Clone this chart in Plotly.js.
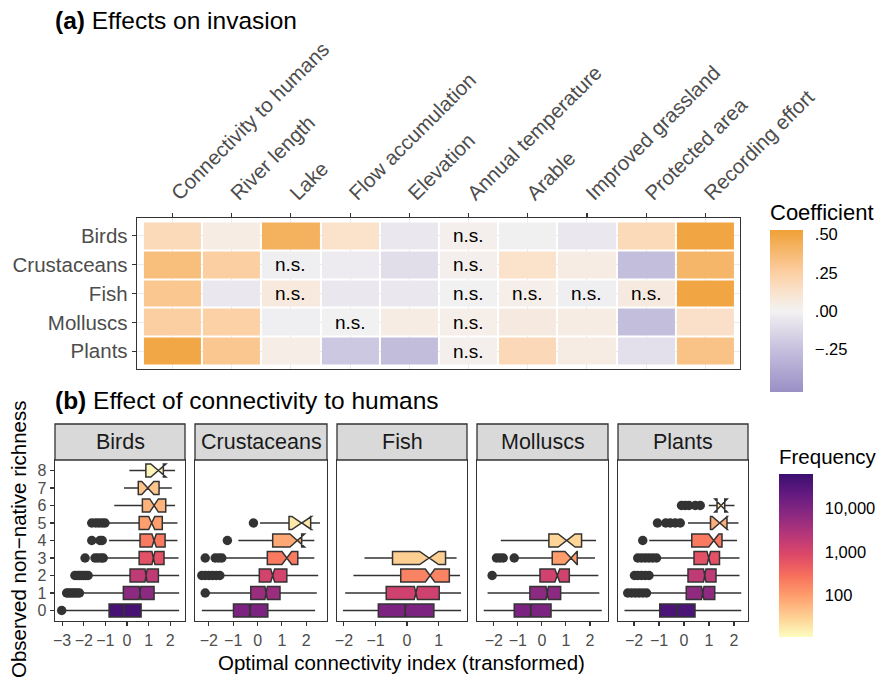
<!DOCTYPE html>
<html><head><meta charset="utf-8">
<script src="https://cdn.plot.ly/plotly-3.0.1.min.js"></script>
<style>html,body{margin:0;padding:0;background:#fff}</style>
</head><body><div id="chart" style="width:882px;height:680px"></div>
<script>
// ---------- (a) heatmap data ----------
const taxa = ['Birds','Crustaceans','Fish','Molluscs','Plants'];
const predictors = ['Connectivity to humans','River length','Lake','Flow accumulation','Elevation',
  'Annual temperature','Arable','Improved grassland','Protected area','Recording effort'];
const coefBirds       = [0.18, 0.05, 0.43, 0.13, -0.05, 0.02, -0.01, -0.05, 0.18, 0.50];
const coefCrustaceans = [0.35, 0.25, -0.02, -0.035, -0.10, 0.02, 0.13, 0.05, -0.26, 0.40];
const coefFish        = [0.30, -0.05, 0.07, -0.05, -0.05, -0.005, 0.03, -0.02, 0.06, 0.50];
const coefMolluscs    = [0.25, 0.24, -0.02, -0.005, 0.05, 0.03, 0.06, 0.05, -0.26, 0.14];
const coefPlants      = [0.49, 0.30, 0.04, -0.21, -0.27, 0.02, 0.19, 0.05, -0.09, 0.32];
const nsBirds       = [0,0,0,0,0,1,0,0,0,0];
const nsCrustaceans = [0,0,1,0,0,1,0,0,0,0];
const nsFish        = [0,0,1,0,0,1,1,1,1,0];
const nsMolluscs    = [0,0,0,1,0,1,0,0,0,0];
const nsPlants      = [0,0,0,0,0,1,0,0,0,0];
const coefTickVals = [0.5, 0.25, 0, -0.25];
const coefTickText = ['.50', '.25', '.00', '\u2212.25'];

// ---------- (b) box plot data ----------
const birdsLevel  = [0,1,2,3,4,5,6,7,8];
const birdsLow    = [-2.87,-2.10,-1.63,-0.94,-0.83,-0.86,-0.59,-0.14,0.11];
const birdsQ1     = [-0.83,-0.17,0.14,0.56,0.60,0.56,0.71,0.52,0.87];
const birdsMed    = [-0.14,0.60,0.88,1.22,1.25,1.14,1.25,0.96,1.45];
const birdsQ3     = [0.65,1.25,1.45,1.71,1.76,1.63,1.79,1.48,1.68];
const birdsHigh   = [2.41,2.41,2.41,2.38,2.33,2.33,2.22,2.07,2.22];
const birdsNotch  = [0.02,0.04,0.05,0.07,0.10,0.14,0.20,0.28,0.35];
const birdsFreq   = [45000,7200,1950,660,220,94,60,40,13];
const birdsOut    = [[-3.02],[-2.79,-2.7,-2.6,-2.5,-2.4,-2.3,-2.2],[-2.41,-2.3,-2.2,-2.1,-2.0,-1.9,-1.8],
                     [-1.94,-1.48,-1.35,-1.2,-1.1],[-1.63,-1.25,-1.15],[-1.63,-1.45,-1.3,-1.15,-1.02],[],[],[]];

const crustLevel  = [0,1,2,3,4,5];
const crustLow    = [-2.29,-2.03,-1.50,-1.40,-0.79,0.10];
const crustQ1     = [-0.99,-0.28,0.07,0.40,0.62,1.29];
const crustMed    = [-0.31,0.35,0.62,1.20,1.63,1.81];
const crustQ3     = [0.42,0.92,1.20,1.65,1.81,2.18];
const crustHigh   = [2.36,2.43,2.49,2.33,2.33,2.56];
const crustNotch  = [0.03,0.05,0.08,0.20,0.30,0.40];
const crustFreq   = [11000,5100,1150,220,75,18];
const crustOut    = [[],[-2.15],[-2.29,-2.15,-2.0,-1.85,-1.7,-1.55],[-2.15,-1.74,-1.6,-1.47],[-1.24],[-0.17]];

const fishLevel   = [0,1,2,3];
const fishLow     = [-2.03,-1.96,-1.70,-1.35];
const fishQ1      = [-0.91,-0.66,-0.20,-0.46];
const fishMed     = [-0.06,0.28,0.73,0.70];
const fishQ3      = [0.85,1.02,1.34,1.22];
const fishHigh    = [1.71,1.71,1.68,1.57];
const fishNotch   = [0.02,0.05,0.15,0.30];
const fishFreq    = [11000,1260,180,32];
const fishOut     = [[],[],[],[]];

const mollLevel   = [0,1,2,3,4];
const mollLow     = [-2.42,-2.26,-1.96,-1.05,-1.71];
const mollQ1      = [-1.15,-0.50,-0.08,0.43,0.29];
const mollMed     = [-0.46,0.22,0.64,1.21,1.03];
const mollQ3      = [0.38,0.78,1.14,1.47,1.65];
const mollHigh    = [2.49,2.39,2.35,2.21,2.25];
const mollNotch   = [0.03,0.05,0.10,0.25,0.35];
const mollFreq    = [11000,7200,1200,100,28];
const mollOut     = [[],[],[-2.07],[-1.89,-1.75,-1.61,-1.15],[]];

const plantLevel  = [0,1,2,3,4,5,6];
const plantLow    = [-2.38,-1.39,-1.33,-1.00,-1.39,0.16,0.99];
const plantQ1     = [-0.97,0.09,0.16,0.40,0.31,1.06,1.32];
const plantMed    = [-0.27,0.75,0.83,0.99,1.19,1.43,1.48];
const plantQ3     = [0.44,1.23,1.28,1.42,1.52,1.72,1.63];
const plantHigh   = [2.29,2.29,2.22,2.22,2.12,2.18,2.02];
const plantNotch  = [0.02,0.05,0.05,0.07,0.20,0.30,0.25];
const plantFreq   = [40000,6500,1950,660,220,66,18];
const plantOut    = [[],[-2.25,-2.1,-1.95,-1.8,-1.65,-1.5],[-1.98,-1.85,-1.7,-1.55,-1.4],
                     [-1.85,-1.7,-1.55,-1.4,-1.25,-1.1],[-1.65],[-1.06,-0.73,-0.55,-0.35,-0.15],[-0.1,0.05,0.2,0.45,0.65]];

const freqTickVals = [2,3,4];
const freqTickText = ['100','1,000','10,000'];

// ---------- styling ----------
const W = 882, H = 680;
const px = v => v / W, py = v => 1 - v / H;
const FONT = 'Liberation Sans, Arial, Helvetica, sans-serif';
const DARK = '#333333', GREY = '#4d4d4d';

const coefScale = [[0,'#9a90c5'],[0.264,'#c6c0de'],[0.5,'#f3f2f2'],[0.62,'#fae2cc'],[0.736,'#fccfa3'],[1,'#f0a037']];
const magma = ['#fcfdbf','#fecf92','#fe9f6d','#f7705c','#de4968','#b73779','#8c2981','#641a80','#3b0f70'];
const freqScale = magma.map((c,i)=>[i/(magma.length-1), c]);
const freqLogMin = 1.03, freqLogMax = 4.8;
function hex2rgb(h){return [1,3,5].map(i=>parseInt(h.substr(i,2),16));}
function freqColor(f){
  let t = (Math.log10(f)-freqLogMin)/(freqLogMax-freqLogMin);
  t = Math.max(0, Math.min(1, t));
  const pos = t*(magma.length-1), i = Math.min(Math.floor(pos), magma.length-2), fr = pos-i;
  const a = hex2rgb(magma[i]), b = hex2rgb(magma[i+1]);
  const c = a.map((v,k)=>Math.round(v+(b[k]-v)*fr));
  return 'rgb('+c.join(',')+')';
}

const traces = [];
const annotations = [];
const shapes = [];

// heatmap
const zRows = [coefBirds, coefCrustaceans, coefFish, coefMolluscs, coefPlants];
const nsRows = [nsBirds, nsCrustaceans, nsFish, nsMolluscs, nsPlants];
traces.push({
  type:'heatmap', x:predictors, y:taxa, z:zRows, xaxis:'x', yaxis:'y',
  colorscale:coefScale, zmin:-0.53, zmax:0.53, xgap:2, ygap:2, hoverinfo:'skip',
  colorbar:{x:px(770), xanchor:'left', xpad:0, ypad:0, y:py(392), yanchor:'bottom',
    len:192, lenmode:'pixels', thickness:33, thicknessmode:'pixels', outlinewidth:0,
    ticks:'outside', ticklen:9, tickcolor:'rgba(0,0,0,0)',
    tickvals:coefTickVals, ticktext:coefTickText, tickfont:{family:FONT, size:16.5, color:'#000'},
    title:{text:'Coefficient', side:'top', font:{family:FONT, size:22, color:'#000'}}}
});
nsRows.forEach((row, r) => row.forEach((flag, c) => {
  if (flag) annotations.push({xref:'x', yref:'y', x:predictors[c], y:taxa[r], text:'n.s.',
    showarrow:false, font:{family:FONT, size:19, color:'#000'}});
}));

// boxes
const panels = [
  {name:'Birds', lev:birdsLevel, lo:birdsLow, q1:birdsQ1, med:birdsMed, q3:birdsQ3, hi:birdsHigh, notch:birdsNotch, freq:birdsFreq, out:birdsOut, l:55, r:185, range:[-3.33,2.68]},
  {name:'Crustaceans', lev:crustLevel, lo:crustLow, q1:crustQ1, med:crustMed, q3:crustQ3, hi:crustHigh, notch:crustNotch, freq:crustFreq, out:crustOut, l:195, r:327, range:[-2.57,2.85]},
  {name:'Fish', lev:fishLevel, lo:fishLow, q1:fishQ1, med:fishMed, q3:fishQ3, hi:fishHigh, notch:fishNotch, freq:fishFreq, out:fishOut, l:337, r:467, range:[-2.22,1.9]},
  {name:'Molluscs', lev:mollLevel, lo:mollLow, q1:mollQ1, med:mollMed, q3:mollQ3, hi:mollHigh, notch:mollNotch, freq:mollFreq, out:mollOut, l:477, r:608, range:[-2.7,2.75]},
  {name:'Plants', lev:plantLevel, lo:plantLow, q1:plantQ1, med:plantMed, q3:plantQ3, hi:plantHigh, notch:plantNotch, freq:plantFreq, out:plantOut, l:618, r:748, range:[-2.64,2.56]}
];

const layout = {
  width:W, height:H, margin:{l:0,r:0,t:0,b:0}, paper_bgcolor:'#fff', plot_bgcolor:'#fff',
  showlegend:false, boxmode:'overlay', font:{family:FONT},
  xaxis:{domain:[px(137),px(740)], anchor:'y', side:'top', type:'category', range:[-0.6,9.585],
    tickangle:-45, ticks:'outside', ticklen:4, tickcolor:DARK, tickwidth:1.1,
    showline:true, mirror:true, linecolor:DARK, linewidth:1.3, showgrid:true, gridcolor:'#ebebeb',
    zeroline:false, tickfont:{family:FONT, size:20.5, color:GREY}},
  yaxis:{domain:[py(369),py(218)], anchor:'x', type:'category', categoryorder:'array', categoryarray:taxa,
    range:[4.62,-0.62], ticks:'outside', ticklen:4, tickcolor:DARK, tickwidth:1.1,
    showline:true, mirror:true, linecolor:DARK, linewidth:1.3, showgrid:true, gridcolor:'#ebebeb',
    zeroline:false, tickfont:{family:FONT, size:20.5, color:GREY}}
};

panels.forEach((p, i) => {
  const n = i + 2, xa = 'x'+n, ya = 'y'+n;
  layout['xaxis'+n] = {domain:[px(p.l),px(p.r)], anchor:ya, range:p.range, dtick:1, tick0:0,
    ticks:'outside', ticklen:4, tickcolor:DARK, tickwidth:1.1, showline:true, mirror:true,
    linecolor:DARK, linewidth:1.3, showgrid:false, zeroline:false,
    tickfont:{family:FONT, size:16, color:GREY}};
  layout['yaxis'+n] = {domain:[py(621),py(460)], anchor:xa, range:[-0.6,8.6],
    tickvals:[0,1,2,3,4,5,6,7,8], showticklabels:i===0, ticks:i===0?'outside':'', ticklen:4,
    tickcolor:DARK, tickwidth:1.1, showline:true, mirror:true, linecolor:DARK, linewidth:1.3,
    showgrid:false, zeroline:false, tickfont:{family:FONT, size:16, color:GREY}};
  p.lev.forEach((lv, k) => {
    traces.push({type:'box', orientation:'h', xaxis:xa, yaxis:ya, y:[lv],
      q1:[p.q1[k]], median:[p.med[k]], q3:[p.q3[k]], lowerfence:[p.lo[k]], upperfence:[p.hi[k]],
      notched:true, notchspan:[p.notch[k]], notchwidth:0.5, width:0.75, whiskerwidth:0,
      boxpoints:false, fillcolor:freqColor(p.freq[k]), line:{color:DARK, width:1.5}, hoverinfo:'skip'});
  });
  const ox = [], oy = [];
  p.out.forEach((arr, k) => arr.forEach(v => { ox.push(v); oy.push(p.lev[k]); }));
  if (ox.length) traces.push({type:'scatter', mode:'markers', xaxis:xa, yaxis:ya, x:ox, y:oy,
    marker:{color:DARK, size:9.5}, hoverinfo:'skip'});
  shapes.push({type:'rect', xref:'paper', yref:'paper', x0:px(p.l), x1:px(p.r), y0:py(460), y1:py(424),
    fillcolor:'#d9d9d9', line:{color:DARK, width:1.3}});
  annotations.push({xref:'paper', yref:'paper', x:px((p.l+p.r)/2), y:py(442), text:p.name,
    showarrow:false, xanchor:'center', yanchor:'middle', font:{family:FONT, size:21.5, color:'#1a1a1a'}});
});

// frequency colourbar (dummy marker trace)
traces.push({type:'scatter', mode:'markers', xaxis:'x2', yaxis:'y2', x:[-100,-100], y:[-100,-100],
  hoverinfo:'skip', marker:{color:[freqLogMin,freqLogMax], cmin:freqLogMin, cmax:freqLogMax,
    colorscale:freqScale, showscale:true, size:1,
    colorbar:{x:px(779), xanchor:'left', xpad:0, ypad:0, y:py(637), yanchor:'bottom',
      len:191, lenmode:'pixels', thickness:34, thicknessmode:'pixels', outlinewidth:0,
      ticks:'outside', ticklen:9, tickcolor:'rgba(0,0,0,0)',
      tickvals:freqTickVals, ticktext:freqTickText, tickfont:{family:FONT, size:16.5, color:'#000'},
      title:{text:'Frequency', side:'top', font:{family:FONT, size:20.5, color:'#000'}}}}});

// titles
annotations.push({xref:'paper', yref:'paper', x:px(53), y:py(20), xanchor:'left', yanchor:'middle',
  text:'<b>(a)</b> Effects on invasion', showarrow:false, font:{family:FONT, size:24.5, color:'#000'}});
annotations.push({xref:'paper', yref:'paper', x:px(53), y:py(400), xanchor:'left', yanchor:'middle',
  text:'<b>(b)</b> Effect of connectivity to humans', showarrow:false, font:{family:FONT, size:24.5, color:'#000'}});
annotations.push({xref:'paper', yref:'paper', x:px(401), y:py(662), xanchor:'center', yanchor:'middle',
  text:'Optimal connectivity index (transformed)', showarrow:false, font:{family:FONT, size:20.5, color:'#000'}});
annotations.push({xref:'paper', yref:'paper', x:px(18), y:py(540), xanchor:'center', yanchor:'middle', textangle:-90,
  text:'Observed non\u2212native richness', showarrow:false, font:{family:FONT, size:20.5, color:'#000'}});

layout.annotations = annotations;
layout.shapes = shapes;

Plotly.newPlot('chart', traces, layout, {staticPlot:true, displayModeBar:false});
</script></body></html>
